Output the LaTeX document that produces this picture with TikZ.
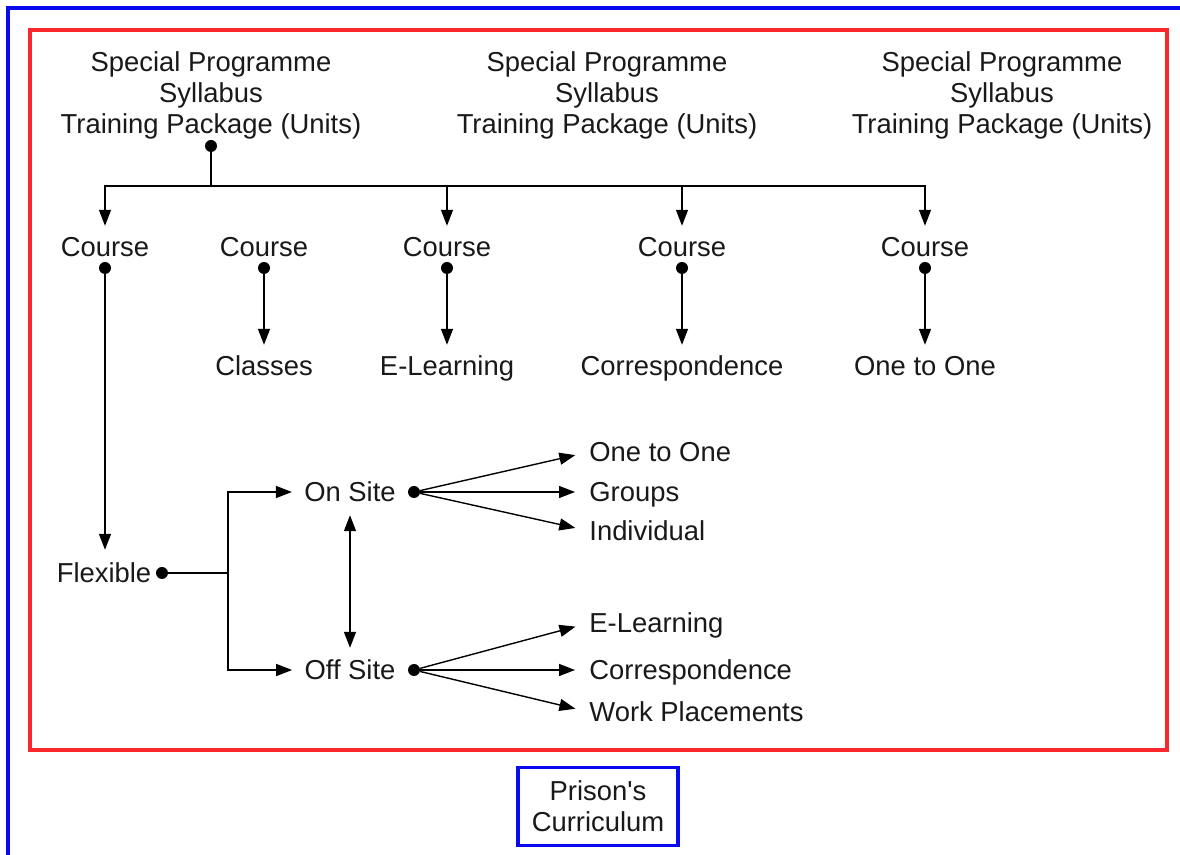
\documentclass[tikz,border=0pt]{standalone}
\usepackage{fontspec}
\setmainfont{Liberation Sans}
\usetikzlibrary{arrows.meta}
\definecolor{framered}{RGB}{250,40,45}
\definecolor{frameblue}{RGB}{10,10,240}
\definecolor{ink}{RGB}{25,25,25}
\newcommand\lblfont{\fontsize{13.7pt}{15.5pt}\selectfont}
\begin{document}
\begin{tikzpicture}[x=0.5pt,y=-0.5pt,
  lbl/.style={font=\lblfont, text=ink, inner sep=0pt, text height=9.8pt, text depth=0pt},
  grp/.style={font=\lblfont, text=ink, inner sep=0pt, align=center},
  dot/.style={circle, fill=black, inner sep=0pt, minimum size=6pt},
  link/.style={line width=0.7pt, draw=black},
  arr/.style={link, -{Triangle[length=8pt,width=6pt]}},
  dbl/.style={link, {Triangle[length=8pt,width=6pt]}-{Triangle[length=8pt,width=6pt]}},
]
\useasboundingbox (0,0) rectangle (1180,855);
\fill[white] (0,0) rectangle (1180,855);

% outer blue frame and inner red frame
\draw[frameblue, line width=1.8pt] (8,880) -- (8,8) -- (1200,8);
\draw[framered, line width=1.8pt] (30,30) rectangle (1167,750);

% top programme blocks
\node[grp] (sp1) at (211,95) {Special Programme\\Syllabus\\Training Package (Units)};
\node[grp] (sp2) at (607,95) {Special Programme\\Syllabus\\Training Package (Units)};
\node[grp] (sp3) at (1002,95) {Special Programme\\Syllabus\\Training Package (Units)};
\node[dot] (d1) at (211,146) {};

% courses
\node[lbl] (c1) at (105,247) {Course};
\node[lbl] (c2) at (264,247) {Course};
\node[lbl] (c3) at (447,247) {Course};
\node[lbl] (c4) at (682,247) {Course};
\node[lbl] (c5) at (925,247) {Course};
\node[dot] (cd1) at (105,268) {};
\node[dot] (cd2) at (264,268) {};
\node[dot] (cd3) at (447,268) {};
\node[dot] (cd4) at (682,268) {};
\node[dot] (cd5) at (925,268) {};

% delivery modes
\node[lbl] (classes) at (264,366) {Classes};
\node[lbl] (elearn) at (447,366) {E-Learning};
\node[lbl] (corr) at (682,366) {Correspondence};
\node[lbl] (oto) at (925,366) {One to One};

% flexible branch
\node[lbl] (flex) at (104,573) {Flexible};
\node[dot] (fd) at (162,573) {};
\coordinate (j) at (228,573);
\node[lbl] (onsite) at (350,492) {On Site};
\node[lbl] (offsite) at (350,670) {Off Site};
\node[dot] (ond) at (414,492) {};
\node[dot] (offd) at (414,670) {};

\node[lbl, anchor=west] (on1) at (589,452) {One to One};
\node[lbl, anchor=west] (on2) at (589,492) {Groups};
\node[lbl, anchor=west] (on3) at (589,531) {Individual};
\node[lbl, anchor=west] (off1) at (589,623) {E-Learning};
\node[lbl, anchor=west] (off2) at (589,670) {Correspondence};
\node[lbl, anchor=west] (off3) at (589,712) {Work Placements};

% curriculum label
\node[draw=frameblue, line width=1.8pt, font=\lblfont, text=ink, align=center,
      minimum width=80pt, minimum height=39pt, inner sep=0pt]
      (pc) at (598,806.5) {Prison\textquotesingle s\\Curriculum};

% connectors: programme to courses
\coordinate (bus) at (211,186);
\draw[link] (d1) -- (bus);
\foreach \c in {c1,c3,c4,c5}
  \draw[arr, shorten >=5.5pt] (bus) -| (\c.north);

% courses to delivery modes
\draw[arr, shorten >=5.5pt] (cd2) -- (classes.north);
\draw[arr, shorten >=5.5pt] (cd3) -- (elearn.north);
\draw[arr, shorten >=5.5pt] (cd4) -- (corr.north);
\draw[arr, shorten >=5.5pt] (cd5) -- (oto.north);
\draw[arr, shorten >=6.5pt] (cd1) -- (cd1 |- flex.north);

% flexible split
\draw[link] (fd) -- (j);
\draw[arr, shorten >=6pt] (j) |- (onsite.west);
\draw[arr, shorten >=6pt] (j) |- (offsite.west);
\draw[dbl, shorten <=6.5pt, shorten >=6pt] (onsite.south) -- (offsite.north);

% fans
\foreach \t in {on1,on2,on3}
  \draw[arr, shorten >=7pt] (ond) -- (\t.west);
\foreach \t in {off1,off2,off3}
  \draw[arr, shorten >=7pt] (offd) -- (\t.west);
\end{tikzpicture}
\end{document}
